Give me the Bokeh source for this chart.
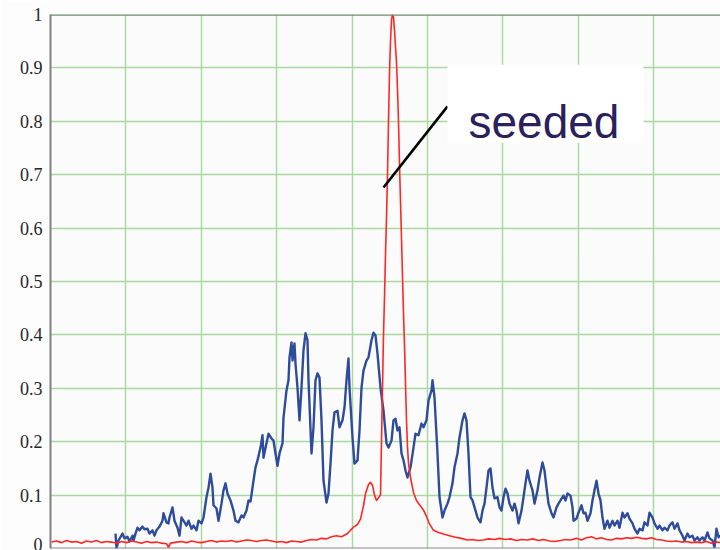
from bokeh.plotting import figure
from bokeh.models import Range1d, FixedTicker, Span, BoxAnnotation, Label
from bokeh.embed import file_html
from bokeh.resources import INLINE

# Spectrometer channel positions and normalised intensities
blue_ch = [65, 66, 68, 72, 74, 77, 79, 82, 83, 85, 87, 89, 92, 94, 97, 99, 102, 104, 106, 109,
           112, 113, 116, 118, 119, 122, 124, 127, 129, 131, 133, 136, 138, 141, 143, 146, 148, 151,
           153, 156, 158, 160, 162, 163, 166, 168, 171, 173, 175, 177, 180, 183, 185, 188, 191, 193,
           196, 198, 200, 202, 203, 205, 207, 210, 212, 213, 216, 218, 221, 223, 225, 227, 229, 232,
           233, 236, 238, 239, 241, 242, 244, 245, 247, 249, 251, 253, 255, 257, 258, 261, 263, 265,
           267, 269, 271, 273, 276, 278, 280, 282, 284, 287, 289, 292, 294, 296, 298, 299, 302, 304,
           307, 309, 311, 313, 316, 318, 321, 323, 325, 327, 330, 333, 336, 338, 341, 343, 345, 347,
           349, 351, 353, 355, 357, 360, 363, 365, 368, 371, 373, 376, 378, 381, 382, 384, 387, 389,
           392, 394, 397, 399, 402, 404, 407, 409, 412, 414, 416, 418, 420, 422, 425, 427, 430, 432,
           434, 436, 438, 440, 442, 444, 447, 449, 451, 453, 455, 457, 459, 462, 464, 466, 468, 471,
           473, 475, 477, 479, 482, 484, 487, 489, 492, 494, 496, 498, 501, 503, 506, 508, 510, 513,
           515, 517, 520, 522, 523, 526, 528, 531, 533, 535, 537, 540, 542, 544, 546, 548, 550, 552,
           554, 557, 559, 562, 564, 567, 569, 572, 574, 577, 579, 582, 584, 587, 589, 592, 594, 597,
           599, 602, 604, 607, 609, 612, 614, 617, 619, 622, 624, 627, 629, 632, 634, 637, 639, 642,
           644, 647, 649, 652, 654, 657, 659, 662, 664, 666, 668, 670]
blue_val = [0.028, 0.000, 0.015, 0.028, 0.019, 0.022, 0.013, 0.024, 0.015, 0.028, 0.039, 0.034,
            0.041, 0.036, 0.037, 0.028, 0.034, 0.024, 0.034, 0.041, 0.052, 0.066, 0.049, 0.047,
            0.058, 0.077, 0.052, 0.039, 0.024, 0.058, 0.052, 0.043, 0.052, 0.037, 0.043, 0.034,
            0.052, 0.047, 0.058, 0.096, 0.114, 0.140, 0.114, 0.081, 0.075, 0.052, 0.084, 0.109,
            0.122, 0.103, 0.090, 0.071, 0.052, 0.049, 0.062, 0.058, 0.071, 0.090, 0.088, 0.114,
            0.127, 0.152, 0.165, 0.189, 0.212, 0.170, 0.197, 0.215, 0.206, 0.202, 0.178, 0.155,
            0.178, 0.197, 0.245, 0.296, 0.315, 0.358, 0.386, 0.352, 0.384, 0.346, 0.301, 0.240,
            0.301, 0.371, 0.403, 0.390, 0.315, 0.178, 0.227, 0.315, 0.328, 0.320, 0.240, 0.127,
            0.086, 0.103, 0.159, 0.221, 0.255, 0.258, 0.227, 0.240, 0.264, 0.315, 0.356, 0.301,
            0.208, 0.159, 0.165, 0.221, 0.301, 0.333, 0.352, 0.358, 0.390, 0.404, 0.399, 0.365,
            0.301, 0.258, 0.197, 0.189, 0.202, 0.240, 0.243, 0.221, 0.227, 0.178, 0.165, 0.146,
            0.133, 0.152, 0.189, 0.215, 0.212, 0.234, 0.227, 0.240, 0.277, 0.296, 0.315, 0.283,
            0.178, 0.096, 0.058, 0.071, 0.084, 0.096, 0.122, 0.152, 0.178, 0.208, 0.240, 0.253,
            0.240, 0.178, 0.096, 0.090, 0.071, 0.058, 0.049, 0.071, 0.084, 0.114, 0.146, 0.150,
            0.114, 0.094, 0.096, 0.077, 0.071, 0.096, 0.112, 0.103, 0.084, 0.071, 0.084, 0.071,
            0.047, 0.071, 0.096, 0.122, 0.146, 0.127, 0.109, 0.084, 0.109, 0.133, 0.161, 0.146,
            0.114, 0.084, 0.066, 0.058, 0.077, 0.084, 0.090, 0.099, 0.090, 0.103, 0.099, 0.077,
            0.052, 0.056, 0.067, 0.081, 0.066, 0.067, 0.052, 0.066, 0.090, 0.109, 0.127, 0.103,
            0.090, 0.058, 0.037, 0.052, 0.039, 0.052, 0.043, 0.052, 0.039, 0.067, 0.058, 0.066,
            0.056, 0.047, 0.037, 0.028, 0.037, 0.034, 0.049, 0.043, 0.067, 0.058, 0.047, 0.037,
            0.043, 0.034, 0.039, 0.034, 0.043, 0.049, 0.037, 0.047, 0.034, 0.024, 0.015, 0.028,
            0.021, 0.024, 0.015, 0.021, 0.015, 0.021, 0.015, 0.030, 0.019, 0.015, 0.002, 0.037,
            0.021, 0.024]

red_ch = [1, 6, 11, 16, 21, 26, 31, 36, 41, 46, 51, 56, 61, 66, 71, 76, 81, 86, 91, 96, 101, 106,
          111, 116, 118, 120, 126, 131, 136, 141, 146, 151, 156, 161, 166, 171, 176, 181, 186, 191,
          196, 201, 206, 211, 216, 221, 226, 231, 236, 241, 246, 251, 256, 261, 266, 271, 276, 281,
          286, 291, 297, 303, 307, 310, 313, 315, 318, 320, 322, 324, 326, 328, 330, 331, 332, 333,
          334, 335, 336, 337, 338, 339, 340, 341, 342, 343, 344, 345, 346, 347, 348, 349, 350, 351,
          352, 353, 354, 355, 356, 357, 358, 360, 363, 366, 369, 373, 376, 379, 383, 388, 393, 399,
          405, 411, 417, 422, 427, 433, 438, 444, 449, 455, 460, 466, 471, 477, 482, 488, 493, 499,
          504, 510, 515, 520, 526, 531, 536, 541, 546, 551, 556, 561, 566, 571, 576, 581, 586, 591,
          596, 601, 606, 611, 616, 621, 626, 631, 636, 641, 646, 651, 656, 661, 666, 670]
red_val = [0.012, 0.014, 0.011, 0.015, 0.012, 0.013, 0.010, 0.014, 0.012, 0.015, 0.011, 0.013,
           0.012, 0.010, 0.013, 0.011, 0.014, 0.012, 0.010, 0.013, 0.011, 0.012, 0.010, 0.009,
           0.002, 0.010, 0.012, 0.013, 0.011, 0.014, 0.012, 0.011, 0.013, 0.015, 0.012, 0.014,
           0.013, 0.015, 0.012, 0.014, 0.016, 0.015, 0.013, 0.015, 0.016, 0.014, 0.012, 0.013,
           0.011, 0.014, 0.013, 0.012, 0.015, 0.017, 0.016, 0.019, 0.018, 0.022, 0.024, 0.022,
           0.028, 0.040, 0.045, 0.055, 0.080, 0.103, 0.120, 0.124, 0.118, 0.100, 0.090, 0.095,
           0.100, 0.200, 0.300, 0.400, 0.470, 0.550, 0.620, 0.700, 0.800, 0.890, 0.950, 0.990,
           1.000, 0.995, 0.970, 0.940, 0.910, 0.860, 0.800, 0.720, 0.650, 0.580, 0.510, 0.440,
           0.380, 0.310, 0.240, 0.190, 0.160, 0.133, 0.105, 0.090, 0.082, 0.072, 0.060, 0.046,
           0.034, 0.030, 0.027, 0.024, 0.021, 0.019, 0.016, 0.017, 0.015, 0.016, 0.018, 0.017,
           0.019, 0.017, 0.018, 0.015, 0.017, 0.016, 0.018, 0.015, 0.017, 0.014, 0.013, 0.015,
           0.017, 0.016, 0.019, 0.016, 0.020, 0.022, 0.018, 0.020, 0.017, 0.016, 0.019, 0.018,
           0.020, 0.019, 0.021, 0.019, 0.018, 0.020, 0.017, 0.016, 0.014, 0.013, 0.014, 0.012,
           0.013, 0.011, 0.012, 0.011, 0.013, 0.010, 0.012, 0.011]

y_ticks = [0, 0.1, 0.2, 0.3, 0.4, 0.5, 0.6, 0.7, 0.8, 0.9, 1]
y_tick_labels = ["0", "0.1", "0.2", "0.3", "0.4", "0.5", "0.6", "0.7", "0.8", "0.9", "1"]

GRID_STEP = 75.4
x_grid = [GRID_STEP * k for k in range(0, 10)]

p = figure(width=720, height=550, output_backend="svg", toolbar_location=None,
           x_range=Range1d(0, 670), y_range=Range1d(0, 1),
           x_axis_location=None,
           min_border_left=50, min_border_right=0, min_border_top=14, min_border_bottom=2,
           background_fill_color="#fbfbfb", border_fill_color="#fdfdfd")
p.outline_line_color = None

# y axis
yax = p.yaxis[0]
yax.ticker = FixedTicker(ticks=y_ticks)
yax.major_label_overrides = {t: s for t, s in zip(y_ticks, y_tick_labels)}
yax.major_tick_out = 0
yax.major_tick_in = 0
yax.minor_tick_line_color = None
yax.major_label_standoff = 8
yax.axis_line_color = "#808080"
yax.axis_line_width = 2
yax.major_label_text_font = "Liberation Serif"
yax.major_label_text_font_size = "18px"
yax.major_label_text_color = "#262626"

# grid
p.xgrid.ticker = FixedTicker(ticks=x_grid)
p.ygrid.ticker = FixedTicker(ticks=y_ticks)
for g in (p.xgrid[0], p.ygrid[0]):
    g.grid_line_color = "#a8da9f"
    g.grid_line_width = 1.5

p.add_layout(Span(location=1, dimension="width", line_color="#6d8c6d", line_width=2.5))
p.add_layout(Span(location=0, dimension="width", line_color="#8a8a8a", line_width=2))

# spectra
p.line(blue_ch, blue_val, line_color="#2f4c9c", line_width=2.4, line_join="round")
p.line(red_ch, red_val, line_color="#ff2626", line_width=1.6, line_join="round")

# callout
p.segment(x0=[333], y0=[0.676], x1=[397], y1=[0.828], line_color="black", line_width=2.6)
p.add_layout(BoxAnnotation(left=397, right=593, bottom=0.760, top=0.906,
                           fill_color="white", fill_alpha=1.0, line_color=None))
p.add_layout(Label(x=418, y=0.798, text="seeded", text_font="Liberation Sans",
                   text_font_size="46px", text_color="#2b1f5c", text_baseline="alphabetic"))

open("out.html", "w").write(file_html(p, INLINE))
